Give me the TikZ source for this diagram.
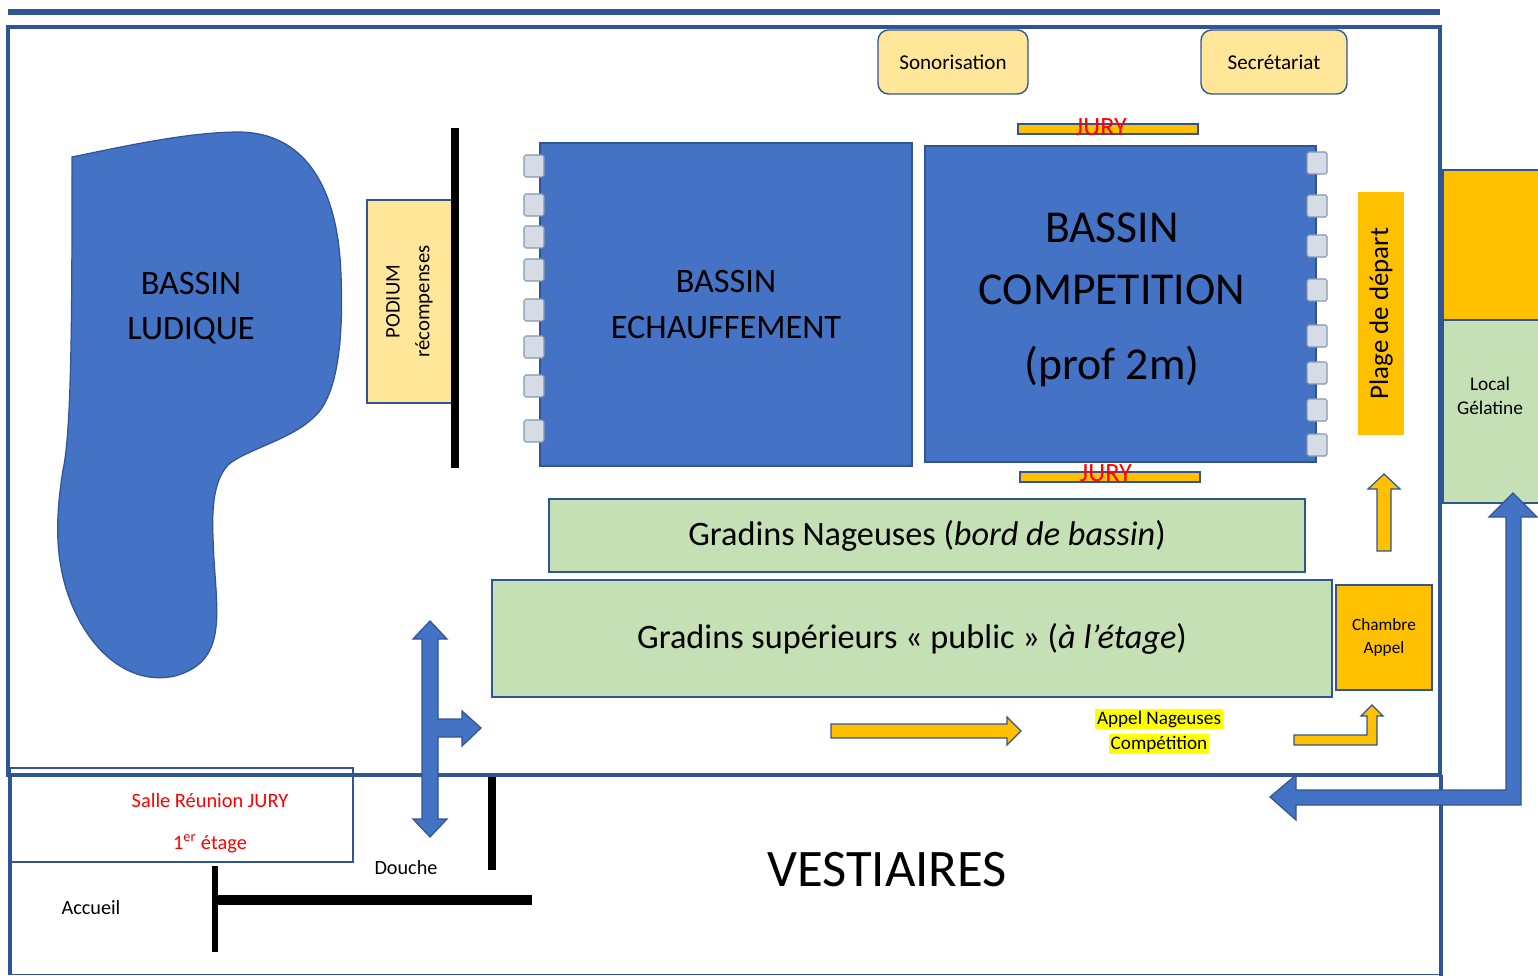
\documentclass[tikz,border=0pt]{standalone}
\usepackage{fontspec}
\setmainfont{Carlito}
\definecolor{pool}{HTML}{4472C4}
\definecolor{wall}{HTML}{2F5597}
\definecolor{sand}{HTML}{FFE699}
\definecolor{amber}{HTML}{FFC000}
\definecolor{seat}{HTML}{C5E0B4}
\definecolor{lane}{HTML}{D6DCE5}
\definecolor{laneedge}{HTML}{8497B0}
\definecolor{hilite}{HTML}{FFFF00}
\def\u{0.02cm}
\tikzstyle{wall_line}=[draw=wall, line width=2.8pt]
\tikzstyle{black_wall}=[draw=black, line width=4pt]
\tikzstyle{pool_box}=[rectangle,
                      draw=wall,
                      line width=0.7pt,
                      fill=pool,
                      inner sep=0pt ]
\tikzstyle{lane_block}=[rectangle,
                        minimum width=20*\u,
                        minimum height=22*\u,
                        draw=laneedge,
                        line width=0.6pt,
                        fill=lane,
                        inner sep=0pt,
                        rounded corners=1 ]
\tikzstyle{desk_box}=[rectangle,
                      draw=wall,
                      line width=0.8pt,
                      fill=sand,
                      inner sep=0pt,
                      font=\fontsize{12}{14}\selectfont ]
\tikzstyle{seat_box}=[rectangle,
                      draw=wall,
                      line width=0.9pt,
                      fill=seat,
                      inner sep=0pt,
                      font=\fontsize{19.5}{26}\selectfont ]
\tikzstyle{amber_box}=[rectangle,
                       draw=wall,
                       line width=0.7pt,
                       fill=amber,
                       inner sep=0pt ]
\tikzstyle{big_label}=[align=center, font=\fontsize{19.5}{26}\selectfont]
\tikzstyle{small_label}=[align=center, font=\fontsize{11.5}{14}\selectfont]
\tikzstyle{jury_label}=[text=red, inner sep=0pt, font=\fontsize{15}{17}\selectfont]
\tikzstyle{block_arrow}=[draw=wall, line width=0.7pt, line join=miter]

\begin{document}
\begin{tikzpicture}[x=0.02cm, y=-0.02cm]
    \useasboundingbox (0,0) rectangle (1538,976);

    % walls of the building
    \draw[wall_line, line width=3.4pt] (8,12) -- (1440,12);
    \draw[wall_line] (8,27) rectangle (1440,775);
    \draw[wall_line, line width=2pt] (10,775) -- (10,975) (1441,775) -- (1441,976);
    \draw[wall_line, line width=1pt] (10,974.5) -- (1441,974.5);
    \draw[wall_line, line width=1.6pt] (10,768) rectangle (353,862);

    % right annex
    \node at (1494, 245) (Annex) [amber_box, minimum width=102*\u, minimum height=150*\u] {};
    \node at (1494, 411.5) (Gelatine) [seat_box, draw=wall, minimum width=102*\u, minimum height=183*\u] {};
    \node at (1490, 396) (GelatineTxt) [small_label, font=\fontsize{11}{14}\selectfont] {Local\\Gélatine};

    % tables
    \node at (953, 62) (Sono) [desk_box, rounded corners=6, minimum width=150*\u, minimum height=64*\u] {Sonorisation};
    \node at (1274, 62) (Secr) [desk_box, rounded corners=6, minimum width=146*\u, minimum height=64*\u] {Secrétariat};
    \node at (409.5, 301.5) (Podium) [desk_box, rotate=90, align=center, minimum width=203*\u, minimum height=85*\u,
                                     font=\fontsize{11.8}{17}\selectfont] {PODIUM\\récompenses};
    \draw[black_wall, line width=4.5pt] (455,128) -- (455,468);

    % pools
    \fill[pool, draw=wall, line width=0.7pt] (72,157)
        .. controls (130,145) and (190,132) .. (240,132)
        .. controls (300,133) and (338,180) .. (341,275)
        .. controls (344,350) and (335,400) .. (313,418)
        .. controls (290,440) and (245,450) .. (228,465)
        .. controls (210,485) and (212,520) .. (214,560)
        .. controls (218,620) and (225,662) .. (175,676)
        .. controls (130,686) and (90,652) .. (70,600)
        .. controls (55,560) and (55,520) .. (63,470)
        .. controls (72,430) and (72,300) .. (72,157) -- cycle;
    \node at (191, 308) (LudiqueTxt) [big_label] {BASSIN\\LUDIQUE};

    \node at (726, 304.5) (Echauf) [pool_box, big_label, minimum width=372*\u, minimum height=323*\u] {BASSIN\\ECHAUFFEMENT};
    \foreach \sy in {166,205,237,270,310,347,386,431} {
        \node at (534, \sy) () [lane_block] {};
    }

    \node at (1120.5, 304) (Compet) [pool_box, minimum width=391*\u, minimum height=316*\u] {};
    \node at (1112, 300) (CompetTxt) [align=center, font=\fontsize{26}{35}\selectfont] {BASSIN\\COMPETITION\\[8pt](prof 2m)};
    \foreach \sy in {163,206,246,290,336,373,410,445} {
        \node at (1317, \sy) () [lane_block] {};
    }

    \node at (1381, 313.5) (Plage) [amber_box, draw=none, rotate=90, minimum width=243*\u, minimum height=46*\u,
                                   font=\fontsize{15.3}{17}\selectfont] {Plage de départ};

    % jury
    \node at (1108, 129) (JuryTop) [amber_box, minimum width=180*\u, minimum height=10*\u] {};
    \node at (1110, 477) (JuryBot) [amber_box, minimum width=180*\u, minimum height=10*\u] {};
    \node at (1101, 127) (JuryTopTxt) [jury_label] {JURY};
    \node at (1106, 473) (JuryBotTxt) [jury_label] {JURY};

    % stands
    \node at (927, 535.5) (GradNag) [seat_box, minimum width=756*\u, minimum height=73*\u] {Gradins Nageuses (\textit{bord de bassin})};
    \node at (912, 638.5) (GradPub) [seat_box, line width=1.3pt, minimum width=840*\u, minimum height=117*\u] {Gradins supérieurs « public » (\textit{à l’étage})};
    \node at (1384, 637.5) (Chambre) [amber_box, align=center, minimum width=96*\u, minimum height=105*\u,
                                     font=\fontsize{9.8}{13}\selectfont] {Chambre\\Appel};

    % call of the swimmers
    \node at (1159, 719) (AppelA) [fill=hilite, inner sep=1pt, font=\fontsize{10.9}{13}\selectfont] {Appel Nageuses};
    \node at (1159, 744) (AppelB) [fill=hilite, inner sep=1pt, font=\fontsize{10.9}{13}\selectfont] {Compétition};
    \fill[amber, block_arrow] (831,724) -- (1007,724) -- (1007,717) -- (1021,731) -- (1007,745) -- (1007,738) -- (831,738) -- cycle;
    \fill[amber, block_arrow] (1294,735) -- (1367,735) -- (1367,716) -- (1361,716) -- (1372,705) -- (1383,716) -- (1377,716)
        -- (1377,745) -- (1294,745) -- cycle;
    \fill[amber, block_arrow] (1377,551) -- (1377,489) -- (1368,489) -- (1384,474) -- (1400,489) -- (1391,489) -- (1391,551) -- cycle;

    % lower floor
    \node at (210, 823) (Salle) [text=red, align=center, font=\fontsize{11.6}{23.8}\selectfont] {Salle Réunion JURY\\1\textsuperscript{er} étage};
    \draw[black_wall, line width=3.4pt] (215,866) -- (215,952);
    \draw[black_wall, line width=5.7pt] (215,900) -- (532,900);
    \draw[black_wall] (492,777) -- (492,870);
    \node at (406, 868) (Douche) [small_label] {Douche};
    \node at (91, 908) (Accueil) [small_label] {Accueil};
    \node at (887, 870) (Vestiaires) [font=\fontsize{30}{34}\selectfont] {VESTIAIRES};

    % ways
    \fill[pool, block_arrow] (422,639) -- (413,639) -- (430,621) -- (447,639) -- (438,639) -- (438,719) -- (462,719)
        -- (462,711) -- (481,728) -- (462,746) -- (462,737) -- (438,737) -- (438,819) -- (447,819) -- (430,837)
        -- (413,819) -- (422,819) -- cycle;
    \fill[pool, block_arrow] (1296,790) -- (1506,790) -- (1506,517) -- (1489,517) -- (1513,493) -- (1537,517) -- (1521,517)
        -- (1521,805) -- (1296,805) -- (1296,820) -- (1270,797) -- (1296,775) -- cycle;
\end{tikzpicture}
\end{document}
